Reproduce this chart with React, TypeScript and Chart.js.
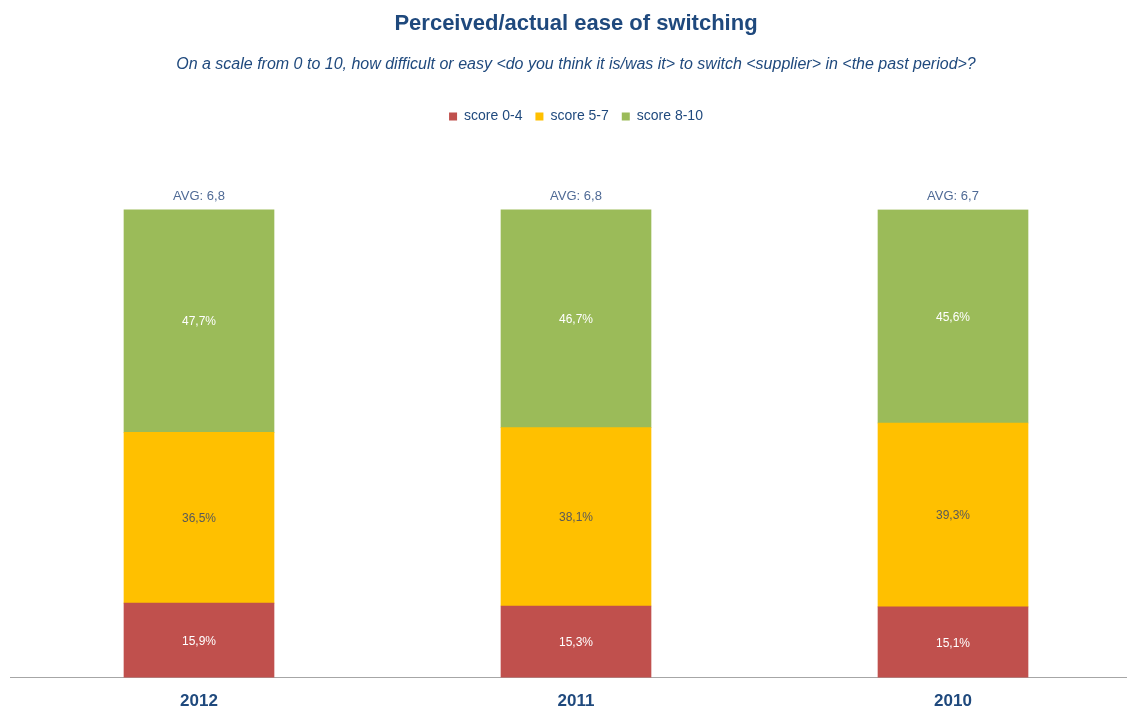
import React, { useEffect, useRef } from "react";
import { Chart, registerables } from "chart.js";

Chart.register(...registerables);

const years = ["2012", "2011", "2010"];
const score04 = [15.9, 15.3, 15.1];
const score57 = [36.5, 38.1, 39.3];
const score810 = [47.7, 46.7, 45.6];
const averages = ["6,8", "6,8", "6,7"];
const seriesNames = ["score 0-4", "score 5-7", "score 8-10"];
const seriesColors = ["#C0504D", "#FFC000", "#9BBB59"];
const labelColors = ["#FFFFFF", "#595959", "#FFFFFF"];

const FONT = "'Liberation Sans', Arial, sans-serif";

const fmt = (v: number) => v.toFixed(1).replace(".", ",") + "%";

const legendSpacer = {
  id: "legendSpacer",
  beforeInit(chart: any) {
    const legend = chart.legend;
    if (!legend) return;
    const orig = legend.fit;
    legend.fit = function () {
      orig.call(this);
      this.height += 76;
    };
  },
};

const labelsPlugin = {
  id: "barLabels",
  afterDatasetsDraw(chart: any) {
    const ctx = chart.ctx;
    ctx.save();
    ctx.textAlign = "center";
    ctx.textBaseline = "middle";
    ctx.font = `12px ${FONT}`;
    chart.data.datasets.forEach((ds: any, di: number) => {
      const meta = chart.getDatasetMeta(di);
      meta.data.forEach((bar: any, i: number) => {
        const p = bar.getProps(["x", "y", "base"], true);
        ctx.fillStyle = labelColors[di];
        ctx.fillText(fmt(ds.data[i]), p.x, (p.y + p.base) / 2 + 1);
      });
    });
    const topMeta = chart.getDatasetMeta(chart.data.datasets.length - 1);
    ctx.fillStyle = "#4F6A95";
    ctx.font = `13px ${FONT}`;
    topMeta.data.forEach((bar: any, i: number) => {
      const p = bar.getProps(["x", "y"], true);
      ctx.fillText("AVG: " + averages[i], p.x, p.y - 13);
    });
    ctx.restore();
  },
};

export default function App() {
  const ref = useRef<HTMLCanvasElement>(null);
  useEffect(() => {
    if (!ref.current) return;
    const data = [score04, score57, score810];
    const chart = new Chart(ref.current, {
      type: "bar",
      data: {
        labels: years,
        datasets: data.map((d, i) => ({
          label: seriesNames[i],
          data: d,
          backgroundColor: seriesColors[i],
          borderWidth: 0,
          barThickness: 150,
        })),
      },
      options: {
        responsive: false,
        animation: false,
        layout: { padding: { left: 10.5, right: 8.5, top: 0, bottom: 0 } },
        plugins: {
          title: {
            display: true,
            text: "Perceived/actual ease of switching",
            color: "#1F497D",
            font: { family: FONT, size: 22, weight: "bold" },
            padding: { top: 11, bottom: 18 },
          },
          subtitle: {
            display: true,
            text: "On a scale from 0 to 10, how difficult or easy <do you think it is/was it> to switch <supplier> in <the past period>?",
            color: "#1F497D",
            font: { family: FONT, size: 16, style: "italic" },
            padding: { top: 0, bottom: 22 },
          },
          legend: {
            display: true,
            labels: {
              boxWidth: 8,
              boxHeight: 8,
              padding: 13,
              color: "#1F497D",
              font: { family: FONT, size: 14 },
            },
          },
          tooltip: { enabled: false },
        },
        scales: {
          x: {
            stacked: true,
            grid: { display: false, drawTicks: false },
            border: { display: true, color: "#A6A6A6", width: 1 },
            ticks: {
              color: "#1F497D",
              padding: 14,
              font: { family: FONT, size: 17, weight: "bold" },
            },
          },
          y: {
            stacked: true,
            display: false,
            min: 0,
            max: 100,
          },
        },
      },
      plugins: [legendSpacer, labelsPlugin],
    });
    return () => chart.destroy();
  }, []);
  return (
    <div
      style={{
        position: "fixed",
        left: 0,
        top: 0,
        width: 1127,
        height: 708,
        overflow: "hidden",
        background: "#fff",
      }}
    >
      <canvas ref={ref} width={1150} height={726} style={{ display: "block" }} />
    </div>
  );
}
